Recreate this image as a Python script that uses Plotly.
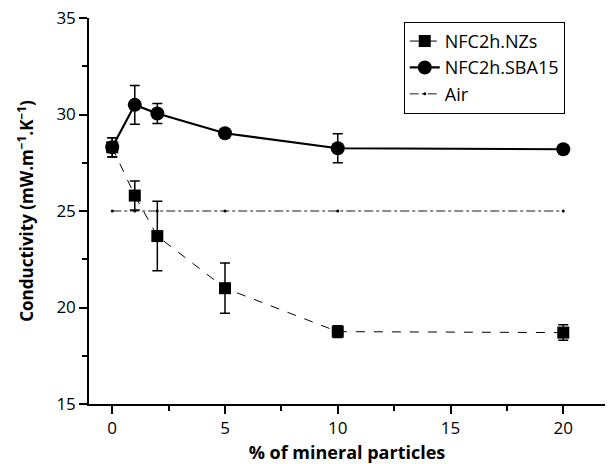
import plotly.graph_objects as go

x_vals = [0, 1, 2, 5, 10, 20]
nzs = [28.3, 25.8, 23.7, 21.0, 18.75, 18.7]
nzs_err = [0.5, 0.75, 1.8, 1.3, 0.3, 0.4]
sba = [28.3, 30.5, 30.05, 29.03, 28.25, 28.2]
sba_err = [0.5, 1.0, 0.52, 0.1, 0.75, 0.15]
air = [25, 25, 25, 25, 25, 25]

FONT = "Open Sans"

fig = go.Figure()
fig.add_trace(go.Scatter(
    x=x_vals, y=nzs, name="NFC2h.NZs", mode="lines+markers",
    line=dict(color="black", width=1, dash="dash"),
    marker=dict(symbol="square", size=12, color="black"),
    error_y=dict(type="data", array=nzs_err, color="black", thickness=1.5, width=5),
))
fig.add_trace(go.Scatter(
    x=x_vals, y=sba, name="NFC2h.SBA15", mode="lines+markers",
    line=dict(color="black", width=2.2),
    marker=dict(symbol="circle", size=14, color="black"),
    error_y=dict(type="data", array=sba_err, color="black", thickness=1.5, width=5),
))
fig.add_trace(go.Scatter(
    x=x_vals, y=air, name="Air", mode="lines+markers",
    line=dict(color="black", width=0.9, dash="dashdot"),
    marker=dict(symbol="circle", size=3, color="black"),
))

axis_common = dict(
    showline=True, linecolor="black", linewidth=1.5,
    ticks="outside", ticklen=8, tickwidth=1.5, tickcolor="black",
    showgrid=False, zeroline=False,
    tickfont=dict(family=FONT, size=17, color="black"),
    minor=dict(ticks="outside", ticklen=5, tickwidth=1.5, tickcolor="black", dtick=2.5),
)

fig.update_layout(
    width=608, height=464,
    margin=dict(l=89, r=3, t=18, b=60),
    plot_bgcolor="white", paper_bgcolor="white",
    font=dict(family=FONT, color="black"),
    xaxis=dict(range=[-1.03, 21.85], tick0=0, dtick=5,
               title=dict(text="<b>% of mineral particles</b>",
                          font=dict(family=FONT, size=18, color="black"), standoff=10),
               **axis_common),
    yaxis=dict(range=[15, 35], tick0=15, dtick=5,
               title=dict(text="<b>Conductivity (mW.m<sup>−1</sup>.K<sup>−1</sup>)</b>",
                          font=dict(family=FONT, size=17, color="black"), standoff=18),
               **axis_common),
    legend=dict(x=0.61, y=0.99, xanchor="left", yanchor="top",
                bordercolor="black", borderwidth=1, bgcolor="white",
                font=dict(family=FONT, size=18, color="black"),
                tracegroupgap=0),
    showlegend=True,
)

fig.write_html("out.html")
